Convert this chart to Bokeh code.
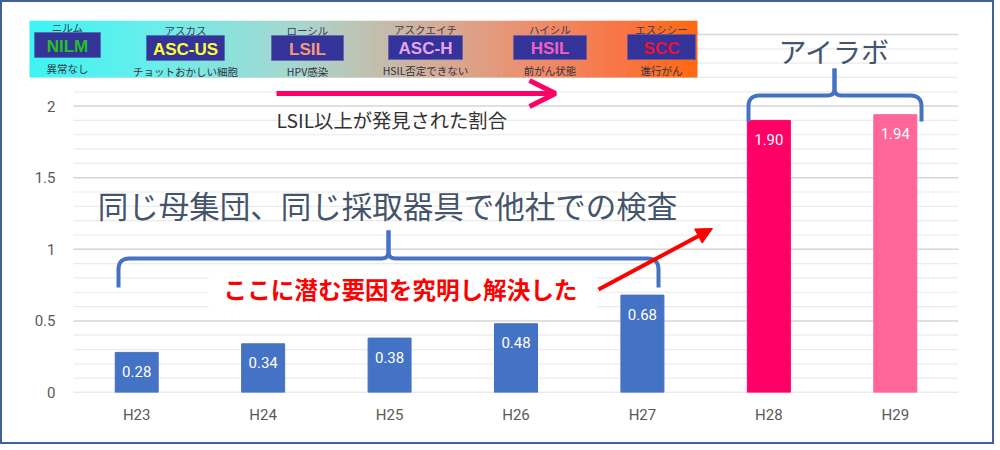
import numpy as np
from bokeh.plotting import figure
from bokeh.models import Range1d, FixedTicker, Arrow, OpenHead, NormalHead, ColumnDataSource
from bokeh.core.properties import value
from bokeh.embed import file_html
from bokeh.resources import INLINE

# ---------------- data ----------------
categories = ["H23", "H24", "H25", "H26", "H27", "H28", "H29"]
rates = [0.28, 0.34, 0.38, 0.48, 0.68, 1.90, 1.94]
rate_labels = ["0.28", "0.34", "0.38", "0.48", "0.68", "1.90", "1.94"]
bar_colors = ["#4472C4", "#4472C4", "#4472C4", "#4472C4", "#4472C4", "#FF0066", "#FF6699"]
y_ticks = [0, 0.5, 1, 1.5, 2]

codes = ["NILM", "ASC-US", "LSIL", "ASC-H", "HSIL", "SCC"]
readings = ["ニルム", "アスカス", "ローシル", "アスクエイチ", "ハイシル", "エスシシー"]
meanings = ["異常なし", "チョットおかしい細胞", "HPV感染", "HSIL否定できない", "前がん状態", "進行がん"]
code_colors = ["#22C322", "#FFFF33", "#F8977A", "#E9A3F0", "#F060C0", "#EE1133"]

title_text = "同じ母集団、同じ採取器具で他社での検査"
lab_text = "アイラボ"
rate_text = "LSIL以上が発見された割合"
cause_text = "ここに潜む要因を究明し解決した"

# ---------------- layout (reference pixel geometry) ----------------
W, H = 994, 444
OFF = 2                     # reference px -> canvas px
FR_L, FR_R, FR_T, FR_B = 28, 958, 20, 392   # frame in reference px
PLOT_L = 73                 # where category -0.5 sits
PXX = (FR_R - PLOT_L) / 7.0
PXY = 143.2

def dx(rx):
    return -0.5 + (rx - PLOT_L) / PXX

def dy(ry):
    return (FR_B - ry) / PXY

xpos = list(range(len(categories)))

p = figure(width=W, height=H,
           x_range=Range1d(dx(FR_L), dx(FR_R)),
           y_range=Range1d(0, dy(FR_T)),
           output_backend="svg", toolbar_location=None,
           min_border_left=FR_L - OFF, min_border_right=W - (FR_R - OFF),
           min_border_top=FR_T - OFF, min_border_bottom=H - (FR_B - OFF))
p.styles = {"border": "2px solid #41609A"}
p.grid.visible = False
p.outline_line_color = None
p.background_fill_color = "white"
p.border_fill_color = "white"

# axes
p.yaxis.ticker = FixedTicker(ticks=y_ticks)
p.yaxis.axis_line_color = None
p.yaxis.major_tick_line_color = None
p.yaxis.minor_tick_line_color = None
p.yaxis.major_label_standoff = -(61 - FR_L)
p.yaxis.major_label_text_font = "Roboto"
p.yaxis.major_label_text_font_size = "15px"
p.yaxis.major_label_text_color = "#595959"

p.xaxis.ticker = FixedTicker(ticks=xpos)
p.xaxis.major_label_overrides = {i: c for i, c in enumerate(categories)}
p.xaxis.axis_line_color = None
p.xaxis.major_tick_line_color = None
p.xaxis.minor_tick_line_color = None
p.xaxis.major_label_standoff = 7
p.xaxis.major_label_text_font = "Roboto"
p.xaxis.major_label_text_font_size = "15px"
p.xaxis.major_label_text_color = "#595959"

# gridlines (0.1 minor, 0.5 major) over category span
grid_vals = [i / 10 for i in range(26)]
minor = [g for i, g in enumerate(grid_vals) if i % 5]
major = [g for i, g in enumerate(grid_vals) if i % 5 == 0]
p.segment(x0=-0.5, x1=6.5, y0=minor, y1=minor, line_color="#EBEBEB", line_width=1.2)
p.segment(x0=-0.5, x1=6.5, y0=major, y1=major, line_color="#D6D6D6", line_width=1.5)

# bars
src = ColumnDataSource(dict(x=xpos, top=rates, color=bar_colors, lab=rate_labels))
p.vbar(x="x", top="top", width=0.34, color="color", source=src)
p.text(x="x", y="top", text="lab", source=src, text_align="center", text_baseline="middle",
       y_offset=19, text_color="white", text_font=value("Roboto"), text_font_size="15px")

# -------- gradient legend band --------
stops = [(0.0, (60, 244, 242)), (0.18, (104, 238, 234)), (0.40, (168, 214, 206)),
         (0.50, (190, 194, 178)), (0.62, (214, 170, 148)), (0.75, (236, 142, 108)),
         (0.88, (248, 118, 70)), (1.0, (255, 104, 16))]
b_l, b_r, b_t, b_b = 29, 697, 20, 77
n = 134
edges = np.linspace(b_l, b_r, n + 1)
cols = []
for k in range(n):
    f = (k + 0.5) / n
    for (f0, c0), (f1, c1) in zip(stops[:-1], stops[1:]):
        if f0 <= f <= f1:
            t = (f - f0) / (f1 - f0)
            c = tuple(int(round(a + (b - a) * t)) for a, b in zip(c0, c1))
            cols.append("#%02x%02x%02x" % c)
            break
p.quad(left=[dx(e) for e in edges[:-1]], right=[dx(min(e + 6, b_r)) for e in edges[:-1]],
       top=dy(b_t), bottom=dy(b_b), fill_color=cols, line_color=None)

box_l = [34, 146, 271, 388, 513, 627]
box_r = [100, 224, 343, 462, 586, 695]
box_t = [32, 35, 35, 35, 35, 34]
box_b = [57, 60, 60, 59, 59, 59]
p.quad(left=[dx(v) for v in box_l], right=[dx(v) for v in box_r],
       top=[dy(v) for v in box_t], bottom=[dy(v) for v in box_b],
       fill_color="#333399", line_color="#5a5ab0", line_width=0.6)
cx = [(a + b) / 2 for a, b in zip(box_l, box_r)]
cy = [(a + b) / 2 + 1 for a, b in zip(box_t, box_b)]
p.text(x=[dx(v) for v in cx], y=[dy(v) for v in cy], text=codes, text_color=code_colors,
       text_align="center", text_baseline="middle", text_font=value("Liberation Sans"),
       text_font_style="bold", text_font_size="17px")
p.text(x=[dx(v) for v in cx], y=[dy(v - 19) for v in cy], text=readings, text_color="#3a3a5a",
       text_align="center", text_baseline="middle", text_font=value("Noto Sans CJK JP"),
       text_font_size="10.5px")
p.text(x=[dx(v) for v in cx], y=[dy(v + 22) for v in cy], text=meanings, text_color="#333344",
       text_align="center", text_baseline="middle", text_font=value("Noto Sans CJK JP"),
       text_font_size="10.5px")

# -------- annotations --------
p.add_layout(Arrow(end=OpenHead(line_color="#FF0066", line_width=5, size=26),
                   x_start=dx(276), y_start=dy(93), x_end=dx(555), y_end=dy(93),
                   line_color="#FF0066", line_width=5))
p.text(x=[dx(276)], y=[dy(119)], text=[rate_text], text_align="left", text_baseline="middle",
       text_color="#333333", text_font=value("Noto Sans CJK JP"), text_font_size="19.3px")

p.text(x=[dx(387)], y=[dy(204)], text=[title_text], text_align="center", text_baseline="middle",
       text_color="#44546A", text_font=value("Noto Sans CJK JP"), text_font_size="30.5px")
p.text(x=[dx(834)], y=[dy(50)], text=[lab_text], text_align="center", text_baseline="middle",
       text_color="#44546A", text_font=value("Noto Sans CJK JP"), text_font_size="28px")


def qbez(p0, p1, p2, m=8):
    t = np.linspace(0, 1, m)
    x = (1 - t) ** 2 * p0[0] + 2 * (1 - t) * t * p1[0] + t ** 2 * p2[0]
    y = (1 - t) ** 2 * p0[1] + 2 * (1 - t) * t * p1[1] + t ** 2 * p2[1]
    return list(x), list(y)


def brace(xl, xr, xc, yh, yend, ytip, r, rc):
    xs, ys = [xl], [yend]
    a, b = qbez((xl, yh + r), (xl, yh), (xl + r, yh))
    xs += a; ys += b
    a, b = qbez((xc - rc, yh), (xc, yh), (xc, yh - rc))
    xs += a; ys += b
    xs.append(xc); ys.append(ytip)
    left = (xs, ys)
    rx = [2 * xc - v for v in xs]
    sx = [(xc + (v - xc) * (xr - xc) / (xc - xl)) if abs(v - xc) > rc else v for v in rx]
    return left, (sx, ys)


for (xs, ys) in brace(118, 658, 388, 258, 287, 230, 11, 7) + brace(748, 921, 834, 95, 121, 68, 11, 7):
    p.line(x=[dx(v) for v in xs], y=[dy(v) for v in ys], line_color="#4472C4", line_width=4,
           line_join="round", line_cap="butt")

# white backing box and red text
p.quad(left=dx(208), right=dx(596), top=dy(266), bottom=dy(313), fill_color="white", line_color=None)
p.text(x=[dx(400)], y=[dy(288)], text=[cause_text], text_align="center", text_baseline="middle",
       text_color="#FF0000", text_font=value("Noto Sans CJK JP"), text_font_style="bold",
       text_font_size="23.6px")
p.add_layout(Arrow(end=NormalHead(fill_color="#FF0000", line_color="#FF0000", size=16),
                   x_start=dx(598), y_start=dy(289), x_end=dx(712), y_end=dy(228),
                   line_color="#FF0000", line_width=4))

open("out.html", "w").write(file_html(p, INLINE))
